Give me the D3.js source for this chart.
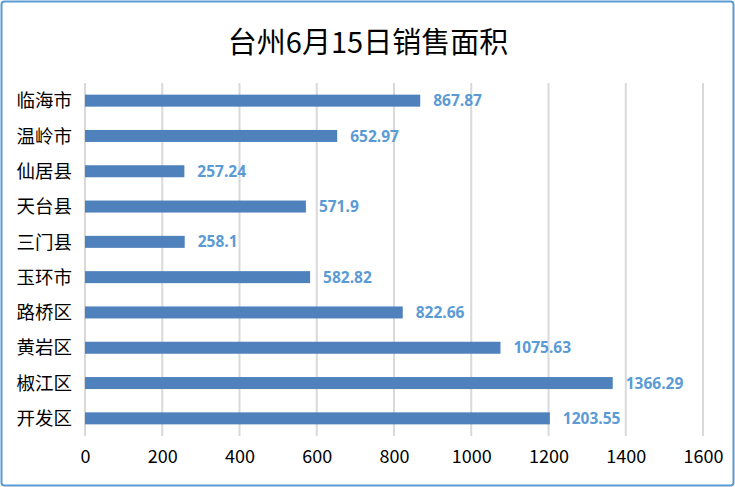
<!DOCTYPE html>
<html><head><meta charset="utf-8">
<script src="https://cdn.jsdelivr.net/npm/d3@7"></script>
<style>body{margin:0;background:#fff}</style>
</head><body>
<script>
const categories = ["临海市","温岭市","仙居县","天台县","三门县","玉环市","路桥区","黄岩区","椒江区","开发区"];
const values = [867.87,652.97,257.24,571.9,258.1,582.82,822.66,1075.63,1366.29,1203.55];
const xTicks = [0,200,400,600,800,1000,1200,1400,1600];
const title = "台州6月15日销售面积";

const W=735,H=487;
const svg=d3.select("body").append("svg").attr("width",W).attr("height",H);
svg.append("rect").attr("x",1.5).attr("y",1.5).attr("width",W-3).attr("height",H-3)
  .attr("rx",3).attr("fill","#fff").attr("stroke","#5b9bd5").attr("stroke-width",2);
svg.append("text").attr("x",368).attr("y",53).attr("text-anchor","middle")
  .attr("font-family","Noto Sans CJK SC").attr("font-size",29).attr("fill","#000").text(title);

const x=d3.scaleLinear().domain([0,1600]).range([85,703]);
const y=d3.scaleBand().domain(categories).range([83,436]).paddingInner(0.66).paddingOuter(0.33);

svg.append("g").selectAll("line").data(xTicks).join("line")
  .attr("x1",d=>x(d)).attr("x2",d=>x(d)).attr("y1",83).attr("y2",436)
  .attr("stroke","#d9d9d9").attr("stroke-width",2);

svg.append("g").selectAll("rect").data(values).join("rect")
  .attr("x",x(0)).attr("y",(d,i)=>y(categories[i]))
  .attr("width",d=>x(d)-x(0)).attr("height",y.bandwidth()).attr("fill","#4f81bd");

svg.append("g").selectAll("text").data(values).join("text")
  .attr("x",d=>x(d)+13).attr("y",(d,i)=>y(categories[i])+y.bandwidth()/2)
  .attr("dy","0.36em").attr("font-family","Open Sans, sans-serif").attr("font-weight","bold")
  .attr("font-size",15.5).attr("fill","#5b9bd5").text(d=>d);

svg.append("g").selectAll("text").data(categories).join("text")
  .attr("x",72).attr("y",d=>y(d)+y.bandwidth()/2).attr("dy","0.36em").attr("text-anchor","end")
  .attr("font-family","Noto Sans CJK SC").attr("font-size",18.5).attr("fill","#000").text(d=>d);

const ax=d3.axisBottom(x).tickValues(xTicks).tickFormat(d3.format("d")).tickSize(0).tickPadding(0);
const g=svg.append("g").attr("transform","translate(0,450)").call(ax);
g.select(".domain").remove();
g.selectAll("text").attr("font-family","Noto Sans CJK SC").attr("font-size",18).attr("fill","#000").attr("dy","0.71em");
</script>
</body></html>
